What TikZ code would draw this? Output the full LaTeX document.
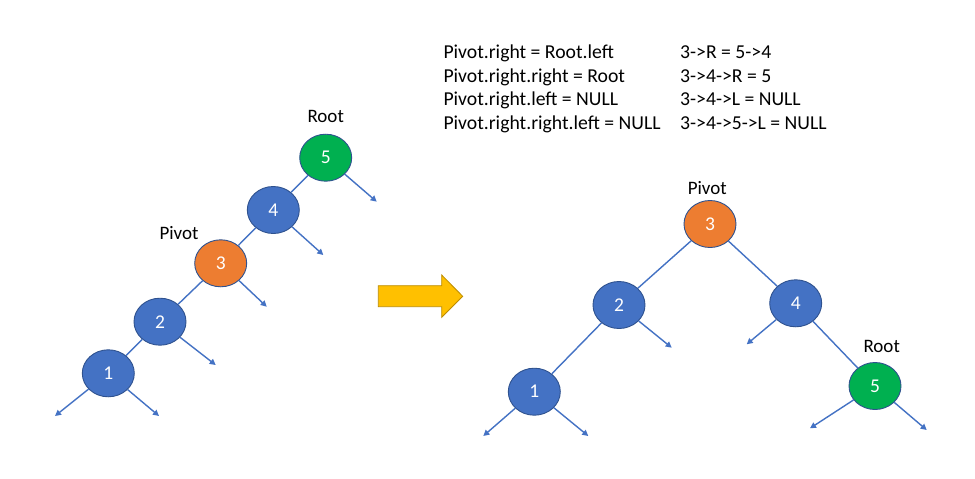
\documentclass[tikz,border=0pt]{standalone}
\usepackage{fontspec}
\setmainfont{Carlito}
\usetikzlibrary{shapes.geometric,arrows.meta}
\definecolor{nblue}{HTML}{4472C4}
\definecolor{nborder}{HTML}{2F528F}
\definecolor{norange}{HTML}{ED7D31}
\definecolor{ngreen}{HTML}{00B050}
\definecolor{gold}{HTML}{FFC000}
\definecolor{goldb}{HTML}{BC8C00}
\tikzset{
  tnode/.style={ellipse, draw=nborder, line width=0.9pt, minimum width=52pt, minimum height=47pt, inner sep=0pt, text=white, font=\fontsize{19.5}{22}\selectfont},
  bnode/.style={tnode, fill=nblue},
  onode/.style={tnode, fill=norange},
  gnode/.style={tnode, fill=ngreen},
  edge/.style={draw=nblue, line width=1.4pt},
  arr/.style={draw=nblue, line width=1.4pt, -{Triangle[length=6pt,width=6pt]}},
  lbl/.style={font=\fontsize{19}{22}\selectfont, text=black, inner sep=0pt},
  txt/.style={font=\fontsize{19.7}{22}\selectfont, text=black, inner sep=0pt, anchor=base west}
}
\begin{document}
\begin{tikzpicture}[x=1pt,y=-1pt]
\useasboundingbox (0,0) rectangle (975,479);
\fill[white] (0,0) rectangle (975,479);

% Left tree
\node[gnode] (a5) at (325.7,157.7) {5};
\node[bnode] (a4) at (273.3,210) {4};
\node[onode] (a3) at (220.7,263.3) {3};
\node[bnode] (a2) at (160,321.7) {2};
\node[bnode] (a1) at (108.3,373.3) {1};
\node[lbl] (aroot) at (325.7,116) {Root};
\node[lbl] (apivot) at (179,232.7) {Pivot};

\coordinate (e5) at (376.7,201.7);
\coordinate (e4) at (323.3,255);
\coordinate (e3) at (266.7,306.7);
\coordinate (e2) at (215.7,365);
\coordinate (e1l) at (55,416);
\coordinate (e1r) at (159,416);

\draw[edge] (a5) -- (a4);
\draw[edge] (a4) -- (a3);
\draw[edge] (a3) -- (a2);
\draw[edge] (a2) -- (a1);
\draw[arr] (a5) -- (e5);
\draw[arr] (a4) -- (e4);
\draw[arr] (a3) -- (e3);
\draw[arr] (a2) -- (e2);
\draw[arr] (a1) -- (e1l);
\draw[arr] (a1) -- (e1r);

% Block arrow
\draw[fill=gold, draw=goldb, line width=0.8pt]
  (378.3,285.7) -- (441.7,285.7) -- (441.7,275) -- (462.7,296.3) -- (441.7,317.3) -- (441.7,306.7) -- (378.3,306.7) -- cycle;

% Text
\node[txt] (t1) at (443.3,58.5) {Pivot.right = Root.left};
\node[txt] (t2) at (443.3,82.2) {Pivot.right.right = Root};
\node[txt] (t3) at (443.3,105.9) {Pivot.right.left = NULL};
\node[txt] (t4) at (443.3,129.6) {Pivot.right.right.left = NULL};
\node[txt] (u1) at (680,58.5) {3->R = 5->4};
\node[txt] (u2) at (680,82.2) {3->4->R = 5};
\node[txt] (u3) at (680,105.9) {3->4->L = NULL};
\node[txt] (u4) at (680,129.6) {3->4->5->L = NULL};

% Right tree
\node[onode] (b3) at (710,224) {3};
\node[bnode] (b2) at (619,305) {2};
\node[bnode] (b4) at (795.7,303.3) {4};
\node[bnode] (b1) at (534.3,391.7) {1};
\node[gnode] (b5) at (875,386) {5};
\node[lbl] (bpivot) at (707.3,188.3) {Pivot};
\node[lbl] (broot) at (881.7,346.7) {Root};

\coordinate (f2) at (671.7,347.7);
\coordinate (f4) at (746.7,344.3);
\coordinate (f1l) at (483.3,436);
\coordinate (f1r) at (588.3,436);
\coordinate (f5l) at (810,428.3);
\coordinate (f5r) at (926.7,430);

\draw[edge] (b3) -- (b2);
\draw[edge] (b3) -- (b4);
\draw[edge] (b2) -- (b1);
\draw[edge] (b4) -- (b5);
\draw[arr] (b2) -- (f2);
\draw[arr] (b4) -- (f4);
\draw[arr] (b1) -- (f1l);
\draw[arr] (b1) -- (f1r);
\draw[arr] (b5) -- (f5l);
\draw[arr] (b5) -- (f5r);
\end{tikzpicture}
\end{document}
